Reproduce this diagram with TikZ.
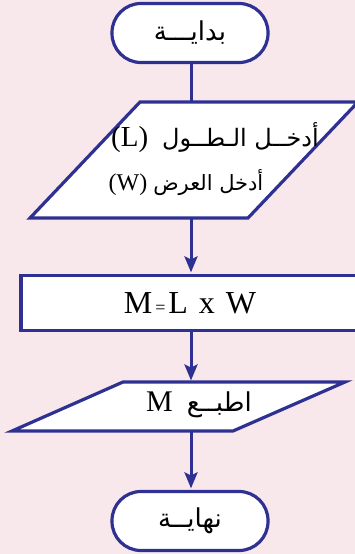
\documentclass[tikz,border=0pt]{standalone}
\usepackage{fontspec}
\setmainfont{Liberation Serif}
\newfontfamily\arabicfont[Script=Arabic]{DejaVu Sans}
\TeXXeTstate=1
\usetikzlibrary{arrows.meta}
\definecolor{fcblue}{RGB}{46,49,146}
\definecolor{bgpink}{RGB}{249,232,235}
\begin{document}
\begin{tikzpicture}[x=1pt,y=-1pt,
  outline/.style={draw=fcblue, line width=3.2pt, fill=white, line join=miter},
  terminal/.style={outline, rounded corners=29pt, minimum width=156pt, minimum height=59pt, inner sep=0pt},
  procbox/.style={outline, minimum width=338pt, minimum height=55pt, inner sep=0pt},
  flow/.style={draw=fcblue, line width=3pt, shorten >=1.5pt, -{Stealth[length=16pt,width=13pt,inset=3pt]}},
  link/.style={draw=fcblue, line width=3pt},
  artext/.style={font=\arabicfont\fontsize{#1}{#1}\selectfont, inner sep=0pt},
  latin/.style={font=\fontsize{#1}{#1}\selectfont, inner sep=0pt},
]
\useasboundingbox (0,0) rectangle (355,554);
\fill[bgpink] (0,0) rectangle (355,554);
\begin{scope}
\clip (0,0) rectangle (355,554);
% start terminal
\node[terminal, artext=26] (start) at (190,33) {\beginR بدايـــة\endR};
% input parallelogram
\draw[outline] (140,102) -- (358,102) -- (248,218) -- (30,218) -- cycle;
\coordinate (in1top) at (191,102);
\coordinate (in1bot) at (191,218);
\node[artext=24] (in1a) at (215,138) {{\rmfamily\fontsize{29}{29}\selectfont(L)}\hspace{14pt}\beginR أدخــل الـطــول\endR};
\node[artext=21] (in1b) at (186,183) {{\rmfamily\fontsize{24}{24}\selectfont(W)}\hspace{6pt}\beginR أدخل العرض\endR};
% process box
\node[procbox, latin=32] (proc) at (190,303) {M\hspace{3pt}{\fontsize{18}{18}\selectfont=}\hspace{3pt}L\hspace{11pt}x\hspace{11pt}W};
% output parallelogram
\draw[outline] (123,382) -- (345,382) -- (233,431) -- (12,431) -- cycle;
\coordinate (outtop) at (191,382);
\coordinate (outbot) at (191,431);
\node[artext=26] (outtxt) at (199,405) {{\rmfamily\fontsize{30}{30}\selectfont M}\hspace{14pt}\beginR اطبــع\endR};
% end terminal
\node[terminal, artext=26] (stop) at (190,521) {\beginR نهايــة\endR};
% connectors
\draw[link] (start.south -| in1top) -- (in1top);
\draw[flow] (in1bot) -- (proc.north -| in1bot);
\draw[flow] (proc.south -| outtop) -- (outtop);
\draw[flow] (outbot) -- (stop.north -| outbot);
\end{scope}
\end{tikzpicture}
\end{document}
